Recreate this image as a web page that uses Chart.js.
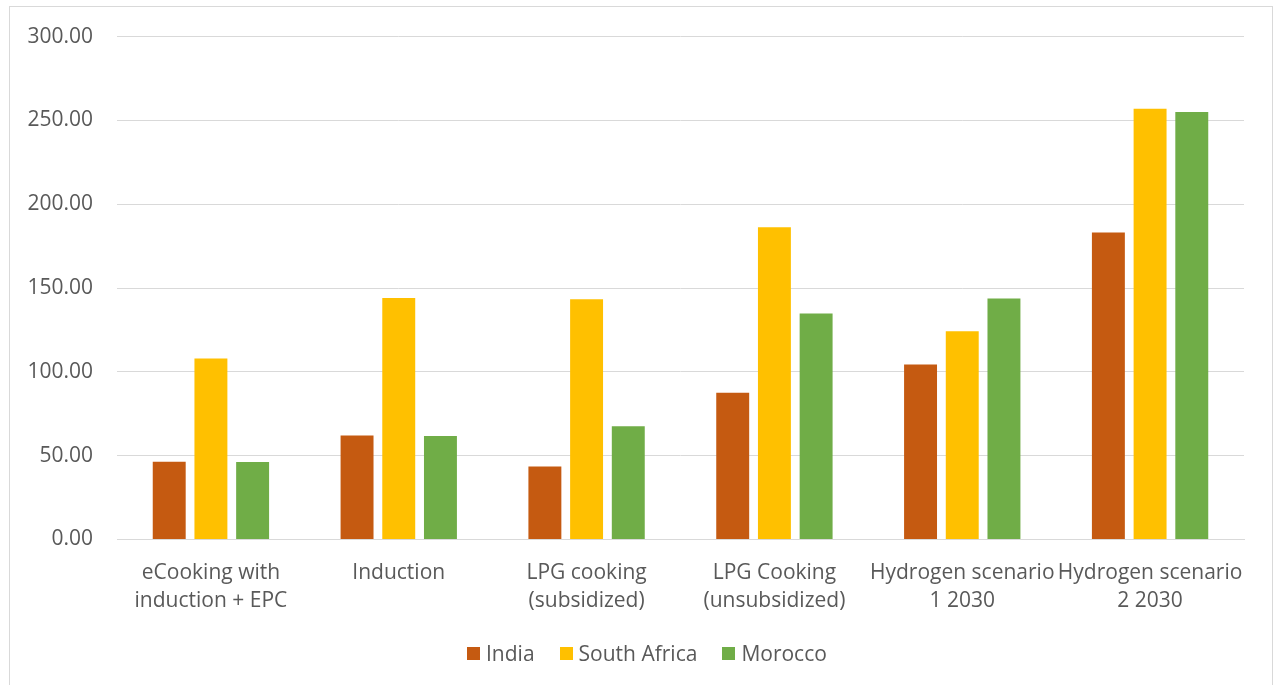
<!DOCTYPE html>
<html lang="en">
<head>
<meta charset="utf-8">
<title>Cooking cost by technology</title>
<script src="https://cdn.jsdelivr.net/npm/chart.js@4.4.1/dist/chart.umd.min.js"></script>
<style>
  body { margin: 0; background: #fff; }
  #contenedor { position: relative; width: 1274px; height: 685px; overflow: hidden; }
  #marco { position: absolute; left: 9px; top: 6px; width: 1264px; height: 720px; border: 1px solid #d9d9d9; box-sizing: border-box; pointer-events: none; }
  #leyenda { position: absolute; left: 467px; top: 641px; display: flex; align-items: center; font-family: "Open Sans", sans-serif; font-size: 21px; line-height: 24px; color: #595959; white-space: nowrap; }
  .item { display: flex; align-items: center; margin-right: 25px; }
  .caja { width: 13px; height: 13px; margin-right: 6px; }
</style>
</head>
<body>
<div id="contenedor">
  <canvas id="grafico" width="1274" height="685"></canvas>
  <div id="marco"></div>
  <div id="leyenda"></div>
</div>
<script>
// === DATOS ===
const categorias = [
  ["eCooking with", "induction + EPC"],
  ["Induction"],
  ["LPG cooking", "(subsidized)"],
  ["LPG Cooking", "(unsubsidized)"],
  ["Hydrogen scenario", "1 2030"],
  ["Hydrogen scenario", "2 2030"]
];
const paises = ["India", "South Africa", "Morocco"];
const india = [46.4, 62.1, 43.6, 87.5, 104.4, 183.1];
const sudafrica = [108.0, 144.1, 143.3, 186.2, 124.3, 257.0];
const marruecos = [46.2, 61.7, 67.5, 134.8, 143.7, 255.0];
const colores = ["#C55A11", "#FFC000", "#70AD47"];

const ejeMin = 0;
const ejeMax = 300;
const ejePaso = 50;

const textoGris = "#595959";
const lineaGris = "#d9d9d9";
const fuente = "'Open Sans'";

// === GRÁFICO ===
const grafico = new Chart(document.getElementById("grafico"), {
  type: "bar",
  data: {
    labels: categorias,
    datasets: [india, sudafrica, marruecos].map((serie, i) => ({
      label: paises[i],
      data: serie,
      backgroundColor: colores[i]
    }))
  },
  options: {
    responsive: false,
    animation: false,
    layout: { padding: { top: 36, right: 30, left: 0, bottom: 0 } },
    datasets: { bar: { categoryPercentage: 0.666, barPercentage: 0.79 } },
    plugins: {
      legend: { display: false },
      tooltip: { enabled: false }
    },
    scales: {
      x: {
        grid: { display: false, drawTicks: false },
        border: { color: lineaGris, width: 1 },
        ticks: {
          color: textoGris,
          font: { family: fuente, size: 21, lineHeight: 1.305 },
          padding: 20,
          maxRotation: 0,
          autoSkip: false
        },
        afterFit: s => { s.height = 145.5; }
      },
      y: {
        min: ejeMin,
        max: ejeMax,
        grid: { color: lineaGris, lineWidth: 1, drawTicks: false },
        border: { display: false },
        ticks: {
          stepSize: ejePaso,
          color: textoGris,
          font: { family: fuente, size: 21 },
          padding: 24,
          callback: v => v.toFixed(2)
        },
        afterFit: s => { s.width = 117; }
      }
    }
  }
});

// === LEYENDA ===
const leyenda = document.getElementById("leyenda");
grafico.data.datasets.forEach(ds => {
  const item = document.createElement("div");
  item.className = "item";
  const caja = document.createElement("span");
  caja.className = "caja";
  caja.style.background = ds.backgroundColor;
  const texto = document.createElement("span");
  texto.textContent = ds.label;
  item.appendChild(caja);
  item.appendChild(texto);
  leyenda.appendChild(item);
});
</script>
</body>
</html>
